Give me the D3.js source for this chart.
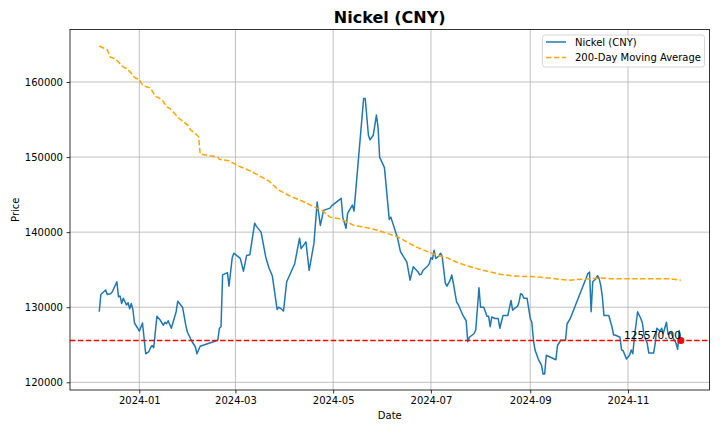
<!DOCTYPE html>
<html><head><meta charset="utf-8">
<script src="https://cdn.jsdelivr.net/npm/d3@7"></script>
<style>
html,body{margin:0;padding:0;background:#fff;}
svg{display:block;font-family:"DejaVu Sans",sans-serif;}
</style></head>
<body><svg id="chart" width="720" height="432"></svg>
<script>
const title = "Nickel (CNY)";
const seriesName = "Nickel (CNY)";
const maName = "200-Day Moving Average";
const lastValue = 125570;

const priceDates = ["2023-12-07","2023-12-08","2023-12-11","2023-12-12","2023-12-14","2023-12-15","2023-12-18","2023-12-19","2023-12-20","2023-12-21","2023-12-22","2023-12-24","2023-12-25","2023-12-26","2023-12-27","2023-12-28","2023-12-29","2023-12-31","2024-01-01","2024-01-03","2024-01-05","2024-01-07","2024-01-08","2024-01-09","2024-01-10","2024-01-12","2024-01-14","2024-01-16","2024-01-17","2024-01-18","2024-01-19","2024-01-21","2024-01-24","2024-01-25","2024-01-28","2024-01-30","2024-01-31","2024-02-02","2024-02-03","2024-02-05","2024-02-06","2024-02-08","2024-02-19","2024-02-20","2024-02-21","2024-02-22","2024-02-25","2024-02-26","2024-02-28","2024-02-29","2024-03-04","2024-03-06","2024-03-08","2024-03-10","2024-03-13","2024-03-14","2024-03-17","2024-03-20","2024-03-22","2024-03-24","2024-03-27","2024-03-28","2024-03-30","2024-03-31","2024-04-02","2024-04-07","2024-04-10","2024-04-11","2024-04-14","2024-04-16","2024-04-19","2024-04-21","2024-04-23","2024-04-25","2024-04-29","2024-04-30","2024-05-06","2024-05-07","2024-05-09","2024-05-10","2024-05-13","2024-05-14","2024-05-17","2024-05-20","2024-05-21","2024-05-23","2024-05-24","2024-05-26","2024-05-28","2024-05-29","2024-05-30","2024-06-02","2024-06-05","2024-06-06","2024-06-09","2024-06-10","2024-06-12","2024-06-16","2024-06-18","2024-06-20","2024-06-23","2024-06-24","2024-06-25","2024-06-26","2024-06-29","2024-06-30","2024-07-01","2024-07-02","2024-07-03","2024-07-04","2024-07-06","2024-07-07","2024-07-08","2024-07-10","2024-07-11","2024-07-13","2024-07-14","2024-07-15","2024-07-17","2024-07-18","2024-07-21","2024-07-23","2024-07-24","2024-07-25","2024-07-28","2024-07-29","2024-07-31","2024-08-01","2024-08-03","2024-08-05","2024-08-06","2024-08-07","2024-08-08","2024-08-10","2024-08-12","2024-08-13","2024-08-15","2024-08-18","2024-08-20","2024-08-21","2024-08-22","2024-08-24","2024-08-25","2024-08-26","2024-08-27","2024-08-28","2024-08-30","2024-09-01","2024-09-02","2024-09-03","2024-09-04","2024-09-06","2024-09-08","2024-09-09","2024-09-10","2024-09-11","2024-09-17","2024-09-18","2024-09-20","2024-09-23","2024-09-24","2024-09-26","2024-09-28","2024-10-07","2024-10-08","2024-10-09","2024-10-10","2024-10-12","2024-10-13","2024-10-14","2024-10-15","2024-10-16","2024-10-17","2024-10-20","2024-10-22","2024-10-23","2024-10-24","2024-10-26","2024-10-27","2024-10-28","2024-10-29","2024-10-31","2024-11-02","2024-11-03","2024-11-04","2024-11-05","2024-11-07","2024-11-09","2024-11-10","2024-11-11","2024-11-13","2024-11-14","2024-11-17","2024-11-18","2024-11-19","2024-11-21","2024-11-22","2024-11-23","2024-11-25","2024-11-26","2024-11-28","2024-11-29","2024-12-01","2024-12-02","2024-12-03","2024-12-04"];
const priceValues = [129400,131700,132300,131700,131800,132000,133400,131400,131500,130500,131200,130300,130600,129800,130500,129700,127900,127200,126800,127900,123800,124100,124600,124900,124600,128800,128300,127600,128000,127800,128200,127200,129400,130800,130000,127600,126700,125800,125400,124700,123800,124800,125600,127200,127400,134300,134600,132800,136600,137200,136500,134800,136900,137000,141200,140800,140000,136600,135200,134200,129700,130000,129700,129500,133400,135800,139200,137800,138700,134900,138500,144000,140900,142900,143200,143500,144500,142000,140500,142500,143600,142800,150300,157800,157800,152900,152300,152900,155600,154000,150000,148600,141700,142000,140000,139400,137400,136000,133600,135400,134700,134300,134400,134900,135500,135800,136600,136400,137600,136500,136800,137200,136800,133200,132800,133600,134300,133200,130700,130400,128900,128200,125400,126000,126500,127000,132600,130000,130000,128800,128800,127400,128700,128500,128500,127200,128900,128900,130900,129600,129800,130100,130700,131800,131700,131200,131200,128500,128000,125600,124300,123100,122300,121100,121100,123600,123000,124900,125600,125600,127800,128500,129600,134500,134700,129400,133400,133800,134200,133800,132900,131400,128900,128900,127400,126300,126300,126100,126000,124300,124200,123100,123600,124300,123800,126000,129400,128500,127900,126300,125200,123900,123900,125200,127200,126800,127200,126500,128000,126400,126600,126000,125200,124400,126900,125570];

const maDates = ["2023-12-07","2023-12-10","2023-12-12","2023-12-14","2023-12-17","2023-12-22","2023-12-24","2023-12-26","2023-12-29","2023-12-31","2024-01-01","2024-01-03","2024-01-05","2024-01-08","2024-01-11","2024-01-14","2024-01-16","2024-01-18","2024-01-20","2024-01-23","2024-01-26","2024-01-28","2024-01-31","2024-02-02","2024-02-04","2024-02-07","2024-02-08","2024-02-19","2024-02-20","2024-02-26","2024-03-03","2024-03-10","2024-03-16","2024-03-22","2024-03-28","2024-04-05","2024-04-10","2024-04-19","2024-04-24","2024-04-29","2024-05-05","2024-05-14","2024-05-22","2024-05-28","2024-06-04","2024-06-10","2024-06-16","2024-06-22","2024-06-29","2024-07-05","2024-07-11","2024-07-17","2024-07-24","2024-08-01","2024-08-07","2024-08-13","2024-08-20","2024-08-26","2024-09-01","2024-09-07","2024-09-13","2024-09-20","2024-09-26","2024-09-30","2024-10-09","2024-10-15","2024-10-21","2024-10-27","2024-11-02","2024-11-08","2024-11-14","2024-11-20","2024-11-27","2024-12-04"];
const maValues = [164800,164500,164300,163300,163100,162000,161800,161400,160600,160400,160300,159600,159400,159200,158100,157800,157400,156700,156500,155800,155100,154800,154300,153600,153300,152700,150400,150000,149700,149500,148800,148200,147500,146800,145600,144700,144300,143400,142900,142000,141800,140900,140600,140300,139800,139400,138700,138000,137400,136900,136600,136000,135500,135000,134700,134400,134200,134100,134100,134000,133900,133700,133600,133700,133800,133900,133800,133800,133800,133800,133800,133800,133800,133600];

const yTicks = [120000,130000,140000,150000,160000];
const xTickLabels = ["2024-01","2024-03","2024-05","2024-07","2024-09","2024-11"];

const parse = s => { const [y,m,d] = s.split("-").map(Number); return new Date(Date.UTC(y, m-1, d||1)); };
const price = priceDates.map((d,i)=>({date:parse(d), value:priceValues[i]}));
const ma = maDates.map((d,i)=>({date:parse(d), value:maValues[i]}));

const L=70, R=709.5, T=29.5, B=390;
const svg = d3.select("#chart");
const x = d3.scaleUtc().domain([new Date(Date.UTC(2023,10,18,18)), new Date(Date.UTC(2024,11,21,21))]).range([L,R]);
const y = d3.scaleLinear().domain([118974,166993]).range([B,T]);

const fmtX = d3.utcFormat("%Y-%m");
const xTickDates = xTickLabels.map(parse);

// grid
const g = svg.append("g");
g.selectAll(".gx").data(xTickDates).join("line")
  .attr("x1",d=>x(d)).attr("x2",d=>x(d)).attr("y1",T).attr("y2",B)
  .attr("stroke","#b0b0b0").attr("stroke-width",0.8);
g.selectAll(".gy").data(yTicks).join("line")
  .attr("x1",L).attr("x2",R).attr("y1",d=>y(d)).attr("y2",d=>y(d))
  .attr("stroke","#b0b0b0").attr("stroke-width",0.8);

// clip
svg.append("clipPath").attr("id","clip").append("rect").attr("x",L).attr("y",T).attr("width",R-L).attr("height",B-T);
const plot = svg.append("g").attr("clip-path","url(#clip)");

const line = d3.line().x(d=>x(d.date)).y(d=>y(d.value));
plot.append("path").datum(price).attr("d",line).attr("fill","none")
  .attr("stroke","#1f77b4").attr("stroke-width",1.5).attr("stroke-linejoin","round");
plot.append("path").datum(ma).attr("d",line).attr("fill","none")
  .attr("stroke","#FFA500").attr("stroke-width",1.5).attr("stroke-dasharray","5.5,2.4");
plot.append("line").attr("x1",L).attr("x2",R).attr("y1",y(lastValue)).attr("y2",y(lastValue))
  .attr("stroke","#FF0000").attr("stroke-width",1.5).attr("stroke-dasharray","5.5,2.4");
const last = price[price.length-1];
plot.append("circle").attr("cx",x(last.date)).attr("cy",y(last.value)).attr("r",3.5).attr("fill","#FF0000");
svg.append("text").attr("x",x(last.date)).attr("y",y(last.value)-1.5).attr("text-anchor","end")
  .attr("font-size",10.5).attr("fill","#000").text(d3.format(".2f")(last.value));

// axes
const xAxis = d3.axisBottom(x).tickValues(xTickDates).tickFormat(fmtX).tickSize(3.5).tickPadding(3.5);
const yAxis = d3.axisLeft(y).tickValues(yTicks).tickFormat(d3.format("d")).tickSize(3.5).tickPadding(3.5);
const gx = svg.append("g").attr("transform",`translate(0,${B})`).call(xAxis);
const gy = svg.append("g").attr("transform",`translate(${L},0)`).call(yAxis);
[gx,gy].forEach(a=>{
  a.select(".domain").remove();
  a.selectAll("line").attr("stroke","#000").attr("stroke-width",0.8);
  a.selectAll("text").attr("font-size",10).attr("font-family","DejaVu Sans").attr("fill","#000");
});
// spines
svg.append("rect").attr("x",L).attr("y",T).attr("width",R-L).attr("height",B-T)
  .attr("fill","none").attr("stroke","#000").attr("stroke-width",0.8);

// labels
svg.append("text").attr("x",(L+R)/2).attr("y",23).attr("text-anchor","middle")
  .attr("font-size",16).attr("font-weight","bold").text(title);
svg.append("text").attr("x",(L+R)/2).attr("y",419).attr("text-anchor","middle")
  .attr("font-size",10).text("Date");
svg.append("text").attr("transform",`translate(19,${(T+B)/2}) rotate(-90)`).attr("text-anchor","middle")
  .attr("font-size",10).text("Price");

// legend
const lg = svg.append("g");
lg.append("rect").attr("x",542.5).attr("y",35).attr("width",162).attr("height",32).attr("rx",2.5)
  .attr("fill","#fff").attr("fill-opacity",0.8).attr("stroke","#cccccc").attr("stroke-width",0.8);
lg.append("line").attr("x1",546).attr("x2",566).attr("y1",42).attr("y2",42).attr("stroke","#1f77b4").attr("stroke-width",1.5);
lg.append("line").attr("x1",546).attr("x2",566).attr("y1",57.5).attr("y2",57.5).attr("stroke","#FFA500").attr("stroke-width",1.5).attr("stroke-dasharray","5.5,2.4");
lg.append("text").attr("x",575).attr("y",45.5).attr("font-size",10).text(seriesName);
lg.append("text").attr("x",575).attr("y",61).attr("font-size",10).text(maName);
</script></body></html>
